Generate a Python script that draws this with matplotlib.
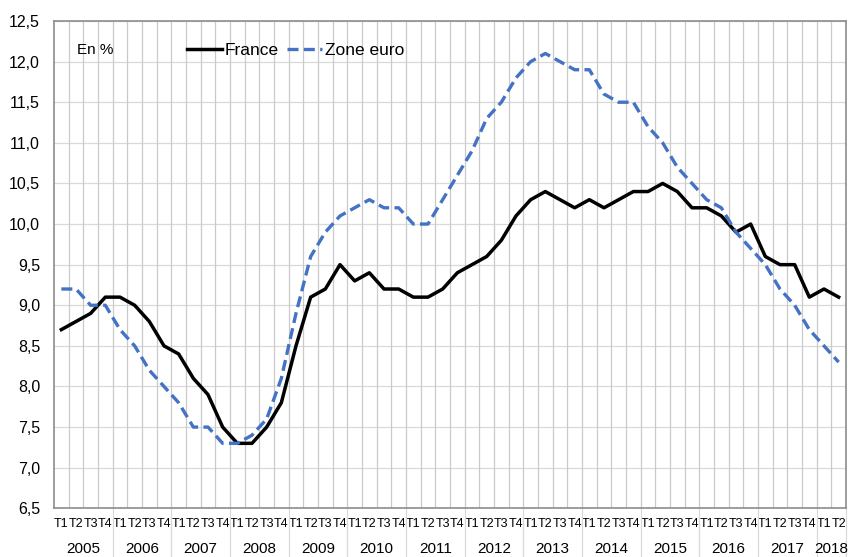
import matplotlib
matplotlib.use('Agg')
import matplotlib.pyplot as plt
import matplotlib.transforms as mtransforms

plt.rcParams['font.family'] = ['Liberation Sans', 'DejaVu Sans']

# quarterly unemployment rate, 2005 T1 -> 2018 T2
years = ['2005', '2006', '2007', '2008', '2009', '2010', '2011',
         '2012', '2013', '2014', '2015', '2016', '2017', '2018']
quarters = ['T1', 'T2', 'T3', 'T4']

france = [8.7, 8.8, 8.9, 9.1,
          9.1, 9.0, 8.8, 8.5,
          8.4, 8.1, 7.9, 7.5,
          7.3, 7.3, 7.5, 7.8,
          8.5, 9.1, 9.2, 9.5,
          9.3, 9.4, 9.2, 9.2,
          9.1, 9.1, 9.2, 9.4,
          9.5, 9.6, 9.8, 10.1,
          10.3, 10.4, 10.3, 10.2,
          10.3, 10.2, 10.3, 10.4,
          10.4, 10.5, 10.4, 10.2,
          10.2, 10.1, 9.9, 10.0,
          9.6, 9.5, 9.5, 9.1,
          9.2, 9.1]

zone_euro = [9.2, 9.2, 9.0, 9.0,
             8.7, 8.5, 8.2, 8.0,
             7.8, 7.5, 7.5, 7.3,
             7.3, 7.4, 7.6, 8.1,
             8.9, 9.6, 9.9, 10.1,
             10.2, 10.3, 10.2, 10.2,
             10.0, 10.0, 10.3, 10.6,
             10.9, 11.3, 11.5, 11.8,
             12.0, 12.1, 12.0, 11.9,
             11.9, 11.6, 11.5, 11.5,
             11.2, 11.0, 10.7, 10.5,
             10.3, 10.2, 9.9, 9.7,
             9.5, 9.2, 9.0, 8.7,
             8.5, 8.3]

y_ticks = [6.5, 7.0, 7.5, 8.0, 8.5, 9.0, 9.5, 10.0, 10.5, 11.0, 11.5, 12.0, 12.5]

n = len(france)
x = list(range(n))
q_labels = [quarters[i % 4] for i in range(n)]

fig = plt.figure(figsize=(8.48, 5.57), dpi=100)
ax = fig.add_axes([54 / 848, 48.7 / 557, 792 / 848, 487.3 / 557])

ax.set_xlim(-0.5, n - 0.5)
ax.set_ylim(6.5, 12.5)

# grid
for y in y_ticks:
    ax.axhline(y, color='#d9d9d9', lw=0.9, zorder=1)
for i in range(1, n):
    ax.axvline(i - 0.5, color='#cacaca', lw=0.9, zorder=1)

ax.plot(x, france, color='black', lw=2.5, solid_joinstyle='round',
        label='France', zorder=3)
ax.plot(x, zone_euro, color='#4472c4', lw=2.4, dashes=(3.3, 1.6),
        dash_capstyle='butt', label='Zone euro', zorder=3)

for s in ax.spines.values():
    s.set_color('#8c8c8c')
    s.set_linewidth(1.2)

ax.set_yticks(y_ticks)
ax.set_yticklabels([('%.1f' % v).replace('.', ',') for v in y_ticks], fontsize=11.5)
ax.tick_params(axis='y', length=0, pad=10)

ax.set_xticks(x)
ax.set_xticklabels(q_labels, fontsize=9)
ax.tick_params(axis='x', length=0, pad=7)

# year separators below the axis and year labels
trans = mtransforms.blended_transform_factory(ax.transData, ax.transAxes)
for k in range(1, len(years) + 1):
    bx = min(k * 4, n) - 0.5
    ax.plot([bx, bx], [0, -0.1], transform=trans, color='#d9d9d9', lw=0.9,
            clip_on=False)
for k, yr in enumerate(years):
    start = k * 4
    end = min(start + 4, n)
    ax.text((start + end - 1) / 2, -0.083, yr, transform=trans, ha='center',
            va='center', fontsize=11)

ax.text(0.029, 0.94, 'En %', transform=ax.transAxes, fontsize=11,
        va='center', ha='left')
ax.legend(loc='center left', bbox_to_anchor=(0.168, 0.94), ncol=2,
          frameon=False, fontsize=12.5, handlelength=2.0, handletextpad=0.15,
          columnspacing=0.5, borderaxespad=0, borderpad=0)

fig.savefig('out.png', dpi=100)
